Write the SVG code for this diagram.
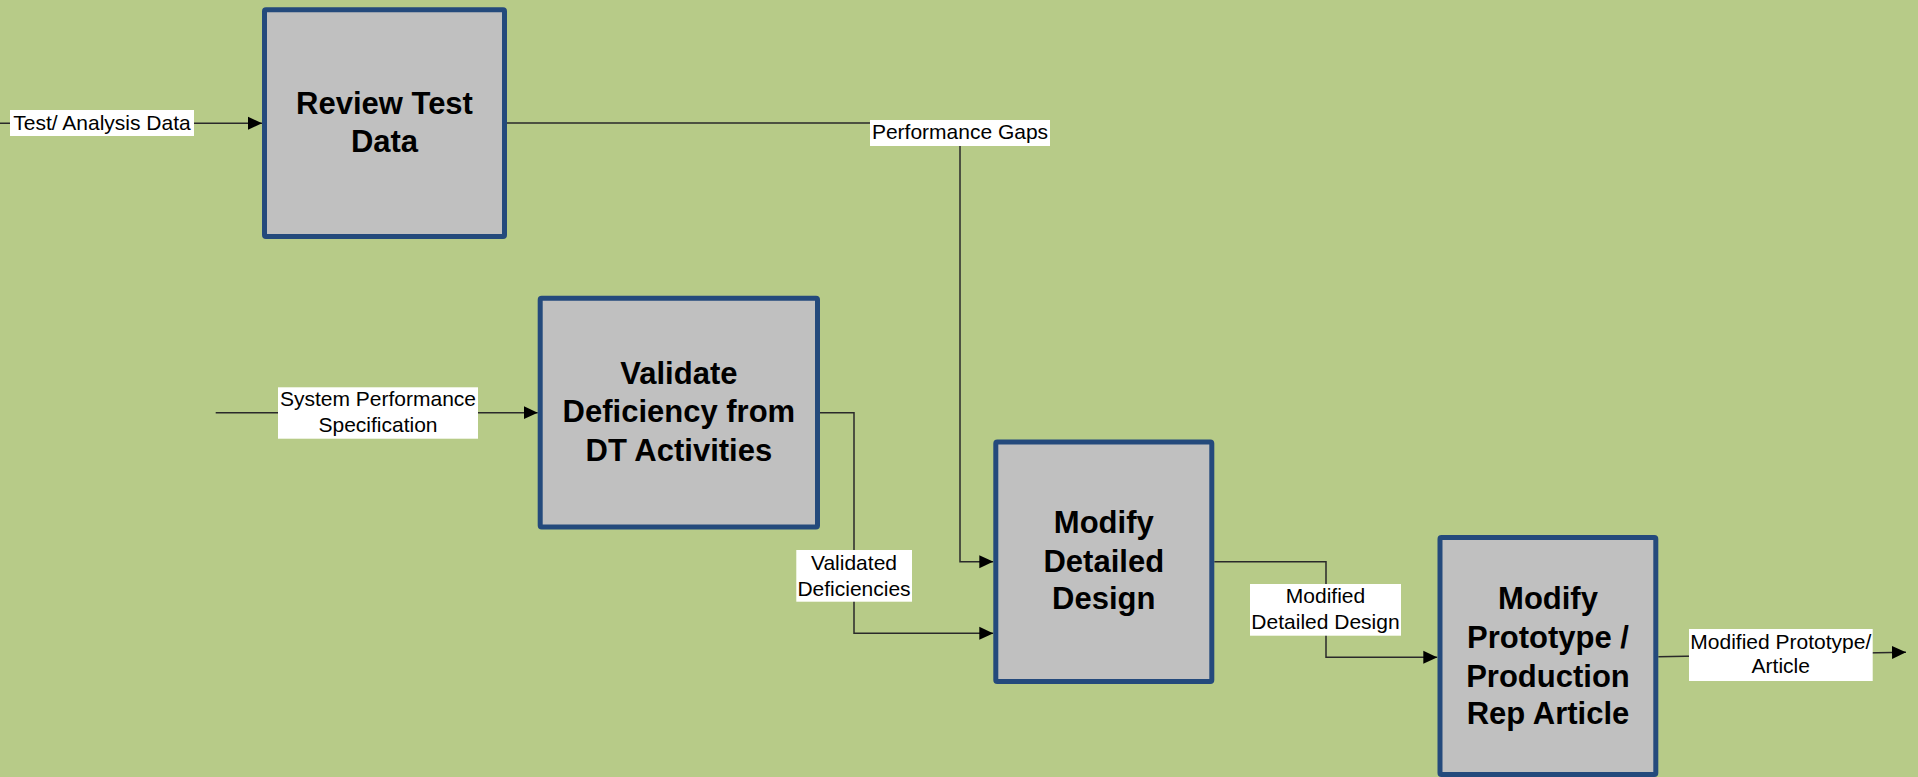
<svg xmlns="http://www.w3.org/2000/svg" width="1918" height="777" viewBox="0 0 1918 777">
<style>
.box{fill:#C0C0C0;stroke:#244A7C;stroke-width:5;}
.title{font-family:"Liberation Sans",Arial,sans-serif;font-weight:bold;font-size:31px;fill:#000;text-anchor:middle;}
.lbl{font-family:"Liberation Sans",Arial,sans-serif;font-size:21px;fill:#000;text-anchor:middle;}
.lblbg{fill:#FFFFFF;}
.conn{fill:none;stroke:#2a2a2a;stroke-width:1.5;}
</style>
<defs>
<marker id="arr" markerUnits="userSpaceOnUse" markerWidth="14" markerHeight="14" refX="14" refY="7" orient="auto">
<path d="M0,0.5 L14,7 L0,13.5 z" fill="#000"/>
</marker>
</defs>
<rect x="0" y="0" width="1918" height="777" fill="#B7CB88"/>

<g id="connectors">
<path class="conn" d="M0,123.3 H262" marker-end="url(#arr)"/>
<path class="conn" d="M507,123 H960 V561.7 H993.3" marker-end="url(#arr)"/>
<path class="conn" d="M215.7,412.7 H537.7" marker-end="url(#arr)"/>
<path class="conn" d="M820,412.7 H854 V633.3 H993.3" marker-end="url(#arr)"/>
<path class="conn" d="M1214.3,561.7 H1326 V657.3 H1437.3" marker-end="url(#arr)"/>
<path class="conn" d="M1658.3,656.7 L1906,652.3" marker-end="url(#arr)"/>

<g id="lbl-test">
<rect class="lblbg" x="10" y="110" width="184" height="26"/>
<text class="lbl" x="102" y="130">Test/ Analysis Data</text>
</g>
<g id="lbl-gaps">
<rect class="lblbg" x="870" y="120" width="180" height="26"/>
<text class="lbl" x="960" y="139.3">Performance Gaps</text>
</g>
<g id="lbl-spec">
<rect class="lblbg" x="278" y="387.3" width="200" height="51.4"/>
<text class="lbl" x="378" y="406">System Performance</text>
<text class="lbl" x="378" y="431.7">Specification</text>
</g>
<g id="lbl-valid">
<rect class="lblbg" x="796.3" y="550" width="115.7" height="51.7"/>
<text class="lbl" x="854" y="570">Validated</text>
<text class="lbl" x="854" y="596">Deficiencies</text>
</g>
<g id="lbl-mdd">
<rect class="lblbg" x="1250" y="584" width="151" height="51.7"/>
<text class="lbl" x="1325.5" y="603.3">Modified</text>
<text class="lbl" x="1325.5" y="629">Detailed Design</text>
</g>
<g id="lbl-out">
<rect class="lblbg" x="1689" y="629" width="183.7" height="52"/>
<text class="lbl" x="1780.8" y="649">Modified Prototype/</text>
<text class="lbl" x="1780.8" y="673.3">Article</text>
</g>
</g>

<g id="node-review">
<rect class="box" x="264.5" y="9.8" width="240" height="226.7" rx="1.5"/>
<text class="title" x="384.5" y="114.3">Review Test</text>
<text class="title" x="384.5" y="151.7">Data</text>
</g>

<g id="node-validate">
<rect class="box" x="540.2" y="298.2" width="277.3" height="228.8" rx="1.5"/>
<text class="title" x="678.9" y="383.5">Validate</text>
<text class="title" x="678.9" y="422">Deficiency from</text>
<text class="title" x="678.9" y="460.5">DT Activities</text>
</g>

<g id="node-modify-design">
<rect class="box" x="995.8" y="442" width="216" height="239.5" rx="1.5"/>
<text class="title" x="1103.8" y="533.3">Modify</text>
<text class="title" x="1103.8" y="572.3">Detailed</text>
<text class="title" x="1103.8" y="609.3">Design</text>
</g>

<g id="node-modify-proto">
<rect class="box" x="1440" y="537.5" width="215.8" height="237" rx="1.5"/>
<text class="title" x="1548" y="609.3">Modify</text>
<text class="title" x="1548" y="648.3">Prototype /</text>
<text class="title" x="1548" y="686.7">Production</text>
<text class="title" x="1548" y="724">Rep Article</text>
</g>
</svg>
